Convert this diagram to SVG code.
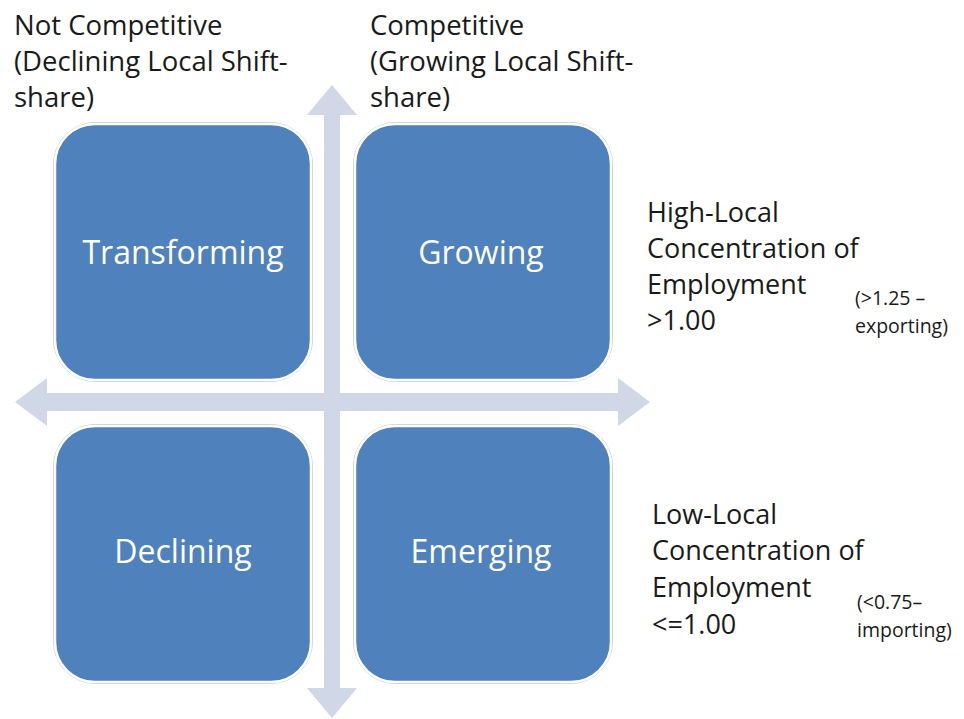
<svg xmlns="http://www.w3.org/2000/svg" width="964" height="719" viewBox="0 0 964 719">
  <style>
    .lbl { font-family: "Open Sans", "Liberation Sans", sans-serif; fill: #1a1a1a; }
    .big { font-size: 27px; }
    .head { font-size: 27.5px; }
    .small { font-size: 19.5px; }
    .box { fill: #4f81bd; stroke: #ffffff; stroke-width: 2.5; }
    .boxEdge { fill: none; stroke: #c8c8c8; stroke-width: 1; }
    .boxText { font-family: "Open Sans", "Liberation Sans", sans-serif; font-size: 32px; fill: #ffffff; text-anchor: middle; }
    .axis { fill: #d0d8e8; }
  </style>

  <rect width="964" height="719" fill="#ffffff"/>

  <!-- axes (double-headed arrows) -->
  <g id="connectors">
    <path class="axis" d="M332,85 L357,115 L340,115 L340,688 L357,688 L332,718 L307,688 L324,688 L324,115 L307,115 Z"/>
    <path class="axis" d="M15,402 L47,378 L47,393 L618,393 L618,378 L650,402 L618,426 L618,411 L47,411 L47,426 Z"/>
  </g>

  <!-- quadrants -->
  <g id="transforming">
    <rect class="boxEdge" x="53.5" y="122.5" width="259" height="259" rx="42"/>
    <rect class="box" x="55" y="124" width="256" height="256" rx="40"/>
    <text class="boxText" x="183" y="264">Transforming</text>
  </g>
  <g id="growing">
    <rect class="boxEdge" x="353.5" y="122.5" width="259" height="259" rx="42"/>
    <rect class="box" x="355" y="124" width="256" height="256" rx="40"/>
    <text class="boxText" x="481" y="264">Growing</text>
  </g>
  <g id="declining">
    <rect class="boxEdge" x="53.5" y="424.5" width="259" height="259" rx="42"/>
    <rect class="box" x="55" y="426" width="256" height="256" rx="40"/>
    <text class="boxText" x="183" y="563">Declining</text>
  </g>
  <g id="emerging">
    <rect class="boxEdge" x="353.5" y="424.5" width="259" height="259" rx="42"/>
    <rect class="box" x="355" y="426" width="256" height="256" rx="40"/>
    <text class="boxText" x="481" y="563">Emerging</text>
  </g>

  <!-- column headings -->
  <g id="not-competitive">
    <text class="lbl head" x="14" y="35">Not Competitive</text>
    <text class="lbl head" x="14" y="71">(Declining Local Shift-</text>
    <text class="lbl head" x="14" y="107">share)</text>
  </g>
  <g id="competitive">
    <text class="lbl head" x="370" y="35">Competitive</text>
    <text class="lbl head" x="370" y="71">(Growing Local Shift-</text>
    <text class="lbl head" x="370" y="107">share)</text>
  </g>

  <!-- row headings -->
  <g id="high-concentration">
    <text class="lbl big" x="647" y="222">High-Local</text>
    <text class="lbl big" x="647" y="258">Concentration of</text>
    <text class="lbl big" x="647" y="294">Employment</text>
    <text class="lbl big" x="647" y="330">&gt;1.00</text>
    <text class="lbl small" x="855" y="305">(&gt;1.25 –</text>
    <text class="lbl small" x="855" y="333">exporting)</text>
  </g>
  <g id="low-concentration">
    <text class="lbl big" x="652" y="524">Low-Local</text>
    <text class="lbl big" x="652" y="560">Concentration of</text>
    <text class="lbl big" x="652" y="597">Employment</text>
    <text class="lbl big" x="652" y="634">&lt;=1.00</text>
    <text class="lbl small" x="857" y="609">(&lt;0.75–</text>
    <text class="lbl small" x="857" y="637">importing)</text>
  </g>
</svg>
